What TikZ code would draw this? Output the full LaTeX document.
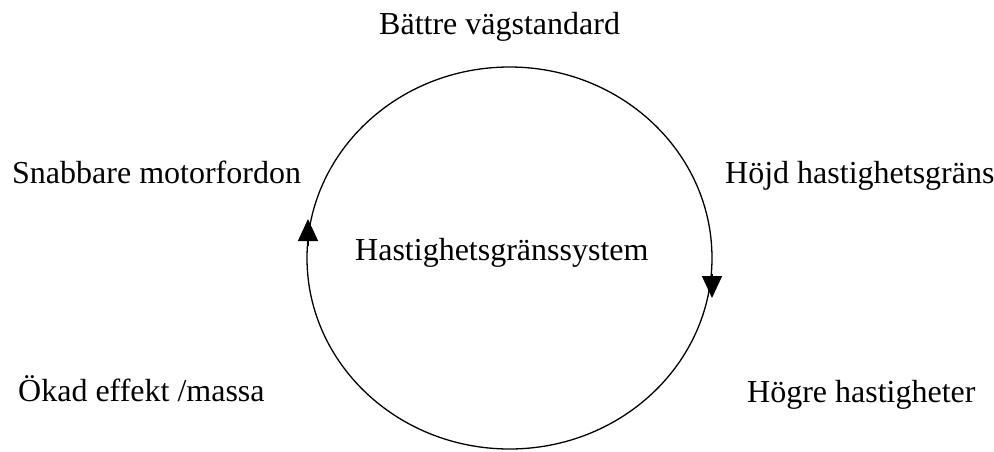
\documentclass[tikz,border=0pt]{standalone}
\usepackage{fontspec}
\setmainfont{Liberation Serif}
\usetikzlibrary{arrows.meta,shapes.geometric}
\begin{document}
\begin{tikzpicture}[x=1pt,y=-1pt,
  lbl/.style={anchor=base west,inner sep=0pt,font=\fontsize{32}{38}\selectfont},
  ring/.style={draw,line width=1.3pt,ellipse,inner sep=0pt,minimum width=405pt,minimum height=382pt},
  flow/.style={line width=1.3pt,-{Triangle[width=20pt,length=22pt]}}]
\useasboundingbox (0,0) rectangle (994,451);
\node[ring] (cyc) at (509.5,258) {};
\node[lbl] (top) at (379,34) {Bättre vägstandard};
\node[lbl] (tl) at (12,183) {Snabbare motorfordon};
\node[lbl] (tr) at (725,183) {Höjd hastighetsgräns};
\node[lbl] (mid) at (355,260) {Hastighetsgränssystem};
\node[lbl] (bl) at (18,401) {Ökad effekt /massa};
\node[lbl] (br) at (747,402) {Högre hastigheter};
\coordinate (la) at (308,246);
\coordinate (lb) at (308,219);
\coordinate (ra) at (712,274);
\coordinate (rb) at (712,298);
\draw[flow] (la) -- (lb);
\draw[flow] (ra) -- (rb);
\end{tikzpicture}
\end{document}
